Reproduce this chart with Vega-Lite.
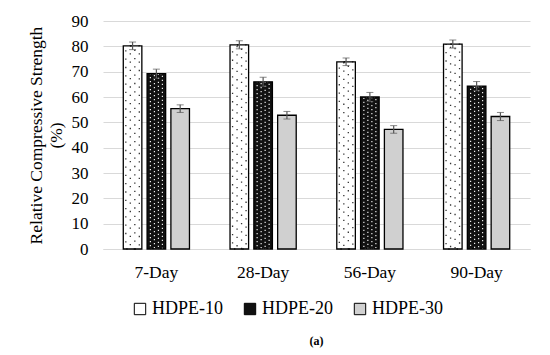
{
  "$schema": "https://vega.github.io/schema/vega-lite/v6.json",
  "autosize": {"type": "none"},
  "padding": {"left": 103, "top": 21, "right": 20, "bottom": 106},
  "width": 427,
  "height": 228,
  "background": "white",
  "config": {
    "view": {"stroke": null},
    "font": "Liberation Serif"
  },
  "title": {
    "text": "(a)",
    "orient": "bottom",
    "anchor": "middle",
    "font": "Liberation Serif",
    "fontSize": 12,
    "fontWeight": "bold",
    "color": "black",
    "offset": 18
  },
  "data": {
    "values": [
      {"age": "7-Day", "mix": "HDPE-10", "value": 80.2, "err": 1.5},
      {"age": "7-Day", "mix": "HDPE-20", "value": 69.2, "err": 1.8},
      {"age": "7-Day", "mix": "HDPE-30", "value": 55.4, "err": 1.5},
      {"age": "28-Day", "mix": "HDPE-10", "value": 80.6, "err": 1.6},
      {"age": "28-Day", "mix": "HDPE-20", "value": 66.0, "err": 1.8},
      {"age": "28-Day", "mix": "HDPE-30", "value": 52.8, "err": 1.5},
      {"age": "56-Day", "mix": "HDPE-10", "value": 73.9, "err": 1.5},
      {"age": "56-Day", "mix": "HDPE-20", "value": 60.0, "err": 1.8},
      {"age": "56-Day", "mix": "HDPE-30", "value": 47.2, "err": 1.5},
      {"age": "90-Day", "mix": "HDPE-10", "value": 80.9, "err": 1.6},
      {"age": "90-Day", "mix": "HDPE-20", "value": 64.3, "err": 1.8},
      {"age": "90-Day", "mix": "HDPE-30", "value": 52.3, "err": 1.6}
    ]
  },
  "encoding": {
    "x": {
      "field": "age",
      "type": "nominal",
      "sort": ["7-Day", "28-Day", "56-Day", "90-Day"],
      "scale": {"paddingInner": 0.38, "paddingOuter": 0.19},
      "axis": {
        "title": null,
        "labelAngle": 0,
        "labelFont": "Liberation Serif",
        "labelFontSize": 17.5,
        "labelColor": "black",
        "labelPadding": 14,
        "ticks": false,
        "domainColor": "#d9d9d9",
        "domainWidth": 1
      }
    },
    "xOffset": {
      "field": "mix",
      "type": "nominal",
      "sort": ["HDPE-10", "HDPE-20", "HDPE-30"],
      "scale": {"paddingInner": 0.22, "paddingOuter": 0}
    },
    "y": {
      "field": "value",
      "type": "quantitative",
      "scale": {"domain": [0, 90]},
      "axis": {
        "title": ["Relative Compressive Strength", "(%)"],
        "titleFont": "Liberation Serif",
        "titleFontSize": 17.5,
        "titleFontWeight": "normal",
        "titleColor": "black",
        "titleLineHeight": 20,
        "titlePadding": 6,
        "values": [0, 10, 20, 30, 40, 50, 60, 70, 80, 90],
        "labelFont": "Liberation Serif",
        "labelFontSize": 17,
        "labelColor": "black",
        "labelPadding": 15,
        "ticks": false,
        "domain": false,
        "grid": true,
        "gridColor": "#d9d9d9",
        "gridWidth": 1.2
      }
    }
  },
  "layer": [
    {
      "mark": {"type": "bar", "strokeWidth": 0},
      "encoding": {
        "fill": {
          "field": "mix",
          "type": "nominal",
          "scale": {
            "domain": ["HDPE-10", "HDPE-20", "HDPE-30"],
            "range": ["#ffffff", "#111111", "#d0d0d0"]
          },
          "legend": {
            "title": null,
            "orient": "none",
            "legendX": 28,
            "legendY": 279,
            "direction": "horizontal",
            "symbolType": "square",
            "symbolSize": 130,
            "symbolStrokeColor": "black",
            "symbolStrokeWidth": 1,
            "labelFont": "Liberation Serif",
            "labelFontSize": 18,
            "labelColor": "black",
            "labelOffset": 3,
            "columnPadding": 18
          }
        }
      }
    },
    {
      "transform": [{"filter": "datum.mix === 'HDPE-10'"}],
      "mark": {"type": "bar", "width": 4.5, "fill": null, "fillOpacity": 0, "stroke": "#333333", "strokeWidth": 1.3, "strokeDash": [1.3, 7]}
    },
    {
      "transform": [{"filter": "datum.mix === 'HDPE-10'"}],
      "mark": {"type": "bar", "width": 13.5, "fill": null, "fillOpacity": 0, "stroke": "#333333", "strokeWidth": 1.3, "strokeDash": [1.3, 7], "strokeDashOffset": 4}
    },
    {
      "transform": [{"filter": "datum.mix === 'HDPE-20'"}],
      "mark": {"type": "bar", "width": 4, "fill": null, "fillOpacity": 0, "stroke": "#ffffff", "strokeWidth": 1.1, "strokeDash": [1.2, 2.8]}
    },
    {
      "transform": [{"filter": "datum.mix === 'HDPE-20'"}],
      "mark": {"type": "bar", "width": 12, "fill": null, "fillOpacity": 0, "stroke": "#ffffff", "strokeWidth": 1.1, "strokeDash": [1.2, 2.8], "strokeDashOffset": 2}
    },
    {
      "mark": {"type": "bar", "fill": null, "fillOpacity": 0, "stroke": "black", "strokeWidth": 1.3}
    },
    {
      "mark": {"type": "errorbar", "ticks": {"size": 7, "color": "#555555", "strokeWidth": 1.2}, "rule": {"color": "#555555", "strokeWidth": 1.2}},
      "encoding": {
        "yError": {"field": "err"}
      }
    }
  ]
}
